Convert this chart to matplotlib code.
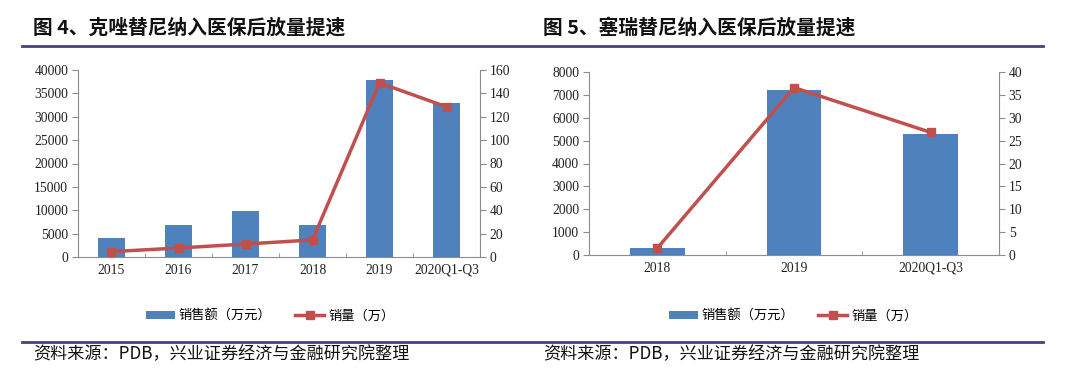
import matplotlib
matplotlib.use("Agg")
import matplotlib.pyplot as plt
from matplotlib.lines import Line2D
from matplotlib.patches import Patch

# ---- data ----
cats_l = ["2015", "2016", "2017", "2018", "2019", "2020Q1-Q3"]
sales_l = [4150, 6800, 9850, 6950, 37900, 32900]
vol_l = [4.6, 7.7, 11.1, 14.6, 149, 128.5]

cats_r = ["2018", "2019", "2020Q1-Q3"]
sales_r = [320, 7220, 5290]
vol_r = [1.5, 36.6, 26.8]

title_l = "图 4、克唑替尼纳入医保后放量提速"
title_r = "图 5、塞瑞替尼纳入医保后放量提速"
source = "资料来源：PDB，兴业证券经济与金融研究院整理"
leg_bar = "销售额（万元）"
leg_line = "销量（万）"

BAR = "#4F81BD"
LINE = "#C0504D"
SPINE = "#8C8C8C"
RULE = "#44447A"
CJK = ["Noto Sans CJK SC", "DejaVu Sans"]
SERIF = "Liberation Serif"

fig = plt.figure(figsize=(10.8, 3.77), dpi=100)


def fy(px):
    return 1 - px / 377


def make(rect, cats, sales, vol, ymax, ystep, y2max, y2step):
    ax = fig.add_axes(rect)
    x = list(range(len(cats)))
    ax.bar(x, sales, width=0.4, color=BAR, zorder=2)
    ax.set_xlim(-0.5, len(cats) - 0.5)
    ax.set_ylim(0, ymax)
    ax.set_yticks(range(0, ymax + 1, ystep))
    ax.set_xticks(x)
    ax.set_xticklabels(cats)
    ax.set_xticks([i + 0.5 for i in range(len(cats) - 1)], minor=True)
    ax.tick_params(axis="x", which="major", length=0, pad=5)
    ax.tick_params(axis="x", which="minor", direction="in", length=3, color=SPINE)
    ax.tick_params(axis="y", direction="out", length=4, color=SPINE, pad=3)
    for s in ["top", "right"]:
        ax.spines[s].set_visible(False)
    for s in ["left", "bottom"]:
        ax.spines[s].set_color(SPINE)
    ax2 = ax.twinx()
    ax2.plot(x, vol, color=LINE, lw=2.5, marker="s", ms=6, zorder=3)
    ax2.set_ylim(0, y2max)
    ax2.set_yticks(range(0, y2max + 1, y2step))
    ax2.tick_params(axis="y", direction="out", length=4, color=SPINE, pad=3)
    for s in ["top", "left", "bottom"]:
        ax2.spines[s].set_visible(False)
    ax2.spines["right"].set_color(SPINE)
    for a in (ax, ax2):
        for lab in a.get_xticklabels() + a.get_yticklabels():
            lab.set_fontfamily(SERIF)
            lab.set_fontsize(9.8)
            lab.set_color("#222222")
    return ax, ax2


make([78 / 1080, fy(257), 402 / 1080, 187 / 377], cats_l, sales_l, vol_l,
     40000, 5000, 160, 20)
make([589 / 1080, fy(255), 410 / 1080, 183 / 377], cats_r, sales_r, vol_r,
     8000, 1000, 40, 5)

# titles
fig.text(33 / 1080, fy(28), title_l, family=CJK, fontsize=14.2, fontweight="bold",
         va="center", ha="left", color="#111111")
fig.text(543 / 1080, fy(28), title_r, family=CJK, fontsize=14.2, fontweight="bold",
         va="center", ha="left", color="#111111")

# rules
fig.add_artist(Line2D([22 / 1080, 1043 / 1080], [fy(45.5), fy(45.5)], color=RULE, lw=2))
fig.add_artist(Line2D([22 / 1080, 1043 / 1080], [fy(341.5), fy(341.5)], color=RULE, lw=2))

# source
fig.text(33 / 1080, fy(354), source, family=CJK, fontsize=12.3, va="center", ha="left",
         color="#111111")
fig.text(543 / 1080, fy(354), source, family=CJK, fontsize=12.3, va="center", ha="left",
         color="#111111")

# legends
handles = [Patch(facecolor=BAR, edgecolor="none"),
           Line2D([], [], color=LINE, lw=2.5, marker="s", ms=6)]
for cx in (270 / 1080, 793 / 1080):
    fig.legend(handles, [leg_bar, leg_line], loc="center", bbox_to_anchor=(cx, fy(316)),
               ncol=2, frameon=False, prop={"family": CJK, "size": 9.5},
               handlelength=2.2, handleheight=0.5, columnspacing=1.8, handletextpad=0.3)

fig.savefig("out.png", dpi=100)
